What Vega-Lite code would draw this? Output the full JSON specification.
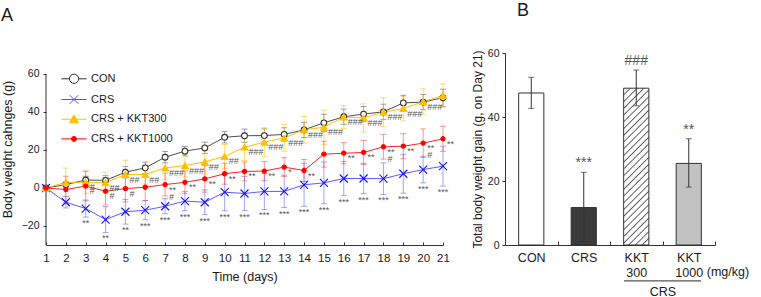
{
"$schema": "https://vega.github.io/schema/vega-lite/v6.json",
"background": "white",
"padding": {"left": 1, "top": 2, "right": 0, "bottom": 0},
"config": {
  "font": "Liberation Sans",
  "view": {"stroke": null},
  "axis": {"grid": false, "domainColor": "#333333", "tickColor": "#333333", "labelColor": "#1a1a1a", "titleColor": "#1a1a1a", "titleFontWeight": "normal", "labelFont": "Liberation Sans", "titleFont": "Liberation Sans"},
  "title": {"font": "Liberation Sans", "fontWeight": "normal", "fontSize": 18, "anchor": "start", "frame": "group", "baseline": "bottom", "color": "#1a1a1a"}
},
"spacing": 16,
"datasets": {
  "weights": [
    {"day":1,"group":"CON","mean":0,"lo":0,"hi":0,"sig":""},
    {"day":2,"group":"CON","mean":1.8,"lo":0.3,"hi":3.3,"sig":""},
    {"day":3,"group":"CON","mean":4.2,"lo":2.2,"hi":6.2,"sig":""},
    {"day":4,"group":"CON","mean":4,"lo":1.5,"hi":6.5,"sig":""},
    {"day":5,"group":"CON","mean":8.3,"lo":5.3,"hi":11.3,"sig":""},
    {"day":6,"group":"CON","mean":10.6,"lo":7.6,"hi":13.6,"sig":""},
    {"day":7,"group":"CON","mean":16.2,"lo":13.2,"hi":19.2,"sig":""},
    {"day":8,"group":"CON","mean":19.4,"lo":16.9,"hi":21.9,"sig":""},
    {"day":9,"group":"CON","mean":21.1,"lo":18.1,"hi":24.1,"sig":""},
    {"day":10,"group":"CON","mean":26.7,"lo":23.7,"hi":29.7,"sig":""},
    {"day":11,"group":"CON","mean":27.5,"lo":24,"hi":31,"sig":""},
    {"day":12,"group":"CON","mean":27.6,"lo":24.1,"hi":31.1,"sig":""},
    {"day":13,"group":"CON","mean":28.2,"lo":24.7,"hi":31.7,"sig":""},
    {"day":14,"group":"CON","mean":30.6,"lo":26.6,"hi":34.6,"sig":""},
    {"day":15,"group":"CON","mean":34.3,"lo":29.8,"hi":38.8,"sig":""},
    {"day":16,"group":"CON","mean":37.5,"lo":33.5,"hi":41.5,"sig":""},
    {"day":17,"group":"CON","mean":38.9,"lo":34.9,"hi":42.9,"sig":""},
    {"day":18,"group":"CON","mean":40.1,"lo":36.1,"hi":44.1,"sig":""},
    {"day":19,"group":"CON","mean":44.8,"lo":40.8,"hi":48.8,"sig":""},
    {"day":20,"group":"CON","mean":45.2,"lo":41.2,"hi":49.2,"sig":""},
    {"day":21,"group":"CON","mean":47.5,"lo":43,"hi":52,"sig":""},
    {"day":1,"group":"CRS","mean":0,"lo":0,"hi":0,"sig":""},
    {"day":2,"group":"CRS","mean":-7.5,"lo":-10.5,"hi":-4.5,"sig":""},
    {"day":3,"group":"CRS","mean":-10.8,"lo":-15.3,"hi":-6.3,"sig":"**"},
    {"day":4,"group":"CRS","mean":-16.6,"lo":-23.4,"hi":-9.8,"sig":"**"},
    {"day":5,"group":"CRS","mean":-12.5,"lo":-19,"hi":-6,"sig":"**"},
    {"day":6,"group":"CRS","mean":-11.7,"lo":-16.7,"hi":-6.7,"sig":"***"},
    {"day":7,"group":"CRS","mean":-9.6,"lo":-13.6,"hi":-5.6,"sig":"***"},
    {"day":8,"group":"CRS","mean":-6.9,"lo":-11.9,"hi":-1.9,"sig":"***"},
    {"day":9,"group":"CRS","mean":-7.5,"lo":-14,"hi":-1,"sig":"***"},
    {"day":10,"group":"CRS","mean":-2.2,"lo":-12,"hi":7.6,"sig":"***"},
    {"day":11,"group":"CRS","mean":-2.9,"lo":-11.9,"hi":6.1,"sig":"***"},
    {"day":12,"group":"CRS","mean":-1.8,"lo":-11.3,"hi":7.7,"sig":"***"},
    {"day":13,"group":"CRS","mean":-1.8,"lo":-10.3,"hi":6.7,"sig":"***"},
    {"day":14,"group":"CRS","mean":1.7,"lo":-9.6,"hi":13,"sig":"***"},
    {"day":15,"group":"CRS","mean":2.7,"lo":-8.3,"hi":13.7,"sig":"***"},
    {"day":16,"group":"CRS","mean":5,"lo":-4,"hi":14,"sig":"***"},
    {"day":17,"group":"CRS","mean":5,"lo":-3,"hi":13,"sig":"***"},
    {"day":18,"group":"CRS","mean":4.9,"lo":-3.4,"hi":13.2,"sig":"***"},
    {"day":19,"group":"CRS","mean":7.5,"lo":-2.7,"hi":17.7,"sig":"***"},
    {"day":20,"group":"CRS","mean":9.7,"lo":2.7,"hi":16.7,"sig":"***"},
    {"day":21,"group":"CRS","mean":11.5,"lo":1,"hi":22,"sig":"***"},
    {"day":1,"group":"CRS + KKT300","mean":0,"lo":0,"hi":0,"sig":""},
    {"day":2,"group":"CRS + KKT300","mean":3,"lo":-4.5,"hi":10.5,"sig":""},
    {"day":3,"group":"CRS + KKT300","mean":3,"lo":-3,"hi":9,"sig":"#"},
    {"day":4,"group":"CRS + KKT300","mean":2.8,"lo":-2.7,"hi":8.3,"sig":"##"},
    {"day":5,"group":"CRS + KKT300","mean":7.1,"lo":-0.4,"hi":14.6,"sig":"##"},
    {"day":6,"group":"CRS + KKT300","mean":7.1,"lo":2.1,"hi":12.1,"sig":"##"},
    {"day":7,"group":"CRS + KKT300","mean":10.6,"lo":4.6,"hi":16.6,"sig":"###"},
    {"day":8,"group":"CRS + KKT300","mean":11.8,"lo":5.8,"hi":17.8,"sig":"###"},
    {"day":9,"group":"CRS + KKT300","mean":13.8,"lo":7.3,"hi":20.3,"sig":"##"},
    {"day":10,"group":"CRS + KKT300","mean":16.6,"lo":10.3,"hi":22.9,"sig":"##"},
    {"day":11,"group":"CRS + KKT300","mean":21.5,"lo":14.5,"hi":28.5,"sig":"###"},
    {"day":12,"group":"CRS + KKT300","mean":24.1,"lo":16.5,"hi":31.7,"sig":"###"},
    {"day":13,"group":"CRS + KKT300","mean":26.4,"lo":19.4,"hi":33.4,"sig":"###"},
    {"day":14,"group":"CRS + KKT300","mean":30.6,"lo":23.6,"hi":37.6,"sig":"###"},
    {"day":15,"group":"CRS + KKT300","mean":32,"lo":23,"hi":41,"sig":"###"},
    {"day":16,"group":"CRS + KKT300","mean":37.3,"lo":31.3,"hi":43.3,"sig":"###"},
    {"day":17,"group":"CRS + KKT300","mean":36.9,"lo":29.5,"hi":44.3,"sig":"###"},
    {"day":18,"group":"CRS + KKT300","mean":39.9,"lo":32.3,"hi":47.5,"sig":"###"},
    {"day":19,"group":"CRS + KKT300","mean":41.8,"lo":35.3,"hi":48.3,"sig":"###"},
    {"day":20,"group":"CRS + KKT300","mean":45.4,"lo":38.6,"hi":52.2,"sig":"###"},
    {"day":21,"group":"CRS + KKT300","mean":48.7,"lo":42.6,"hi":54.8,"sig":""},
    {"day":1,"group":"CRS + KKT1000","mean":0,"lo":0,"hi":0,"sig":""},
    {"day":2,"group":"CRS + KKT1000","mean":-0.8,"lo":-7.8,"hi":6.2,"sig":""},
    {"day":3,"group":"CRS + KKT1000","mean":1,"lo":-6.8,"hi":8.8,"sig":"#"},
    {"day":4,"group":"CRS + KKT1000","mean":-1.7,"lo":-8.9,"hi":5.5,"sig":"#"},
    {"day":5,"group":"CRS + KKT1000","mean":-0.3,"lo":-7.3,"hi":6.7,"sig":"#"},
    {"day":6,"group":"CRS + KKT1000","mean":0.4,"lo":-6.6,"hi":7.4,"sig":""},
    {"day":7,"group":"CRS + KKT1000","mean":1.8,"lo":-4.2,"hi":7.8,"sig":"**\n#"},
    {"day":8,"group":"CRS + KKT1000","mean":3,"lo":-3,"hi":9,"sig":"**"},
    {"day":9,"group":"CRS + KKT1000","mean":4.8,"lo":-2.2,"hi":11.8,"sig":"**"},
    {"day":10,"group":"CRS + KKT1000","mean":7.5,"lo":2,"hi":13,"sig":"**"},
    {"day":11,"group":"CRS + KKT1000","mean":8.7,"lo":3.7,"hi":13.7,"sig":"**"},
    {"day":12,"group":"CRS + KKT1000","mean":8.9,"lo":3.9,"hi":13.9,"sig":"**"},
    {"day":13,"group":"CRS + KKT1000","mean":11,"lo":6,"hi":16,"sig":"*"},
    {"day":14,"group":"CRS + KKT1000","mean":9.2,"lo":3.4,"hi":15,"sig":"**"},
    {"day":15,"group":"CRS + KKT1000","mean":17.8,"lo":11,"hi":24.6,"sig":""},
    {"day":16,"group":"CRS + KKT1000","mean":18.3,"lo":12.7,"hi":23.9,"sig":"**"},
    {"day":17,"group":"CRS + KKT1000","mean":18.7,"lo":12.4,"hi":25,"sig":"**"},
    {"day":18,"group":"CRS + KKT1000","mean":21.7,"lo":15.2,"hi":28.2,"sig":"**\n#"},
    {"day":19,"group":"CRS + KKT1000","mean":22,"lo":15.4,"hi":28.6,"sig":"**"},
    {"day":20,"group":"CRS + KKT1000","mean":23.6,"lo":16.1,"hi":31.1,"sig":"**\n#"},
    {"day":21,"group":"CRS + KKT1000","mean":25.9,"lo":19.3,"hi":32.5,"sig":"**"}
  ],
  "totals": [
    {"group":"CON","mean":47.5,"lo":42.7,"hi":52.4,"sig":""},
    {"group":"CRS","mean":11.7,"lo":1.2,"hi":22.7,"sig":"***"},
    {"group":"KKT 300","mean":49,"lo":43.5,"hi":54.7,"sig":"###"},
    {"group":"KKT 1000","mean":25.5,"lo":18.1,"hi":33.2,"sig":"**"}
  ]
},
"hconcat": [
  {
    "width": 397, "height": 192,
    "title": {"text": "A", "offset": 28, "dx": -45},
    "data": {"name": "weights"},
    "resolve": {"scale": {"stroke": "independent", "fill": "independent", "shape": "independent", "size": "independent", "color": "independent"}},
    "encoding": {
      "x": {"field": "day", "type": "quantitative", "scale": {"domain": [1, 21], "nice": false},
        "axis": {"values": [1,2,3,4,5,6,7,8,9,10,11,12,13,14,15,16,17,18,19,20,21], "title": "Time (days)", "titleFontSize": 12.5, "labelFontSize": 11.5, "tickSize": -3, "labelPadding": 10, "titlePadding": 7, "labelFlush": false}}
    },
    "layer": [
      {
        "transform": [{"filter": "datum.day === 1 && datum.group === 'CON'"}],
        "mark": {"type": "rule", "color": "#333333", "strokeWidth": 1},
        "encoding": {
          "x": {"datum": 1, "type": "quantitative"},
          "y": {"datum": -30, "type": "quantitative"},
          "y2": {"datum": 60}
        }
      },
      {
        "mark": {"type": "errorbar", "ticks": true, "size": 6, "thickness": 1, "opacity": 0.55},
        "encoding": {
          "y": {"field": "lo", "type": "quantitative", "title": "Body weight cahnges (g)", "scale": {"domain": [-30, 71.05], "nice": false},
            "axis": {"values": [-20,-10,0,10,20,30,40,50,60], "domain": false, "title": "Body weight cahnges (g)", "titleFontSize": 12.5, "labelFontSize": 10.5, "tickSize": 3, "labelPadding": 4, "titlePadding": 7}},
          "y2": {"field": "hi"},
          "color": {"field": "group", "type": "nominal", "scale": {"domain": ["CON","CRS","CRS + KKT300","CRS + KKT1000"], "range": ["#555555","#5a5aff","#ffc000","#ff4040"]}, "legend": null}
        }
      },
      {
        "mark": {"type": "line", "strokeWidth": 1},
        "encoding": {
          "y": {"field": "mean", "type": "quantitative", "title": "Body weight cahnges (g)"},
          "stroke": {"field": "group", "type": "nominal", "scale": {"domain": ["CON","CRS","CRS + KKT300","CRS + KKT1000"], "range": ["#4d4d4d","#5c5cff","#ffc000","#ff2020"]}, "legend": null}
        }
      },
      {
        "mark": {"type": "point", "strokeWidth": 1.1, "opacity": 1},
        "encoding": {
          "y": {"field": "mean", "type": "quantitative", "title": "Body weight cahnges (g)"},
          "shape": {"field": "group", "type": "nominal", "scale": {"domain": ["CON","CRS","CRS + KKT300","CRS + KKT1000"], "range": ["circle","M-1,-1L1,1M-1,1L1,-1","triangle-up","circle"]}, "legend": null},
          "size": {"field": "group", "type": "nominal", "scale": {"type": "ordinal", "domain": ["CON","CRS","CRS + KKT300","CRS + KKT1000"], "range": [33, 64, 45, 18]}, "legend": null},
          "fill": {"field": "group", "type": "nominal", "scale": {"domain": ["CON","CRS","CRS + KKT300","CRS + KKT1000"], "range": ["white","transparent","#ffc000","#ff0000"]}, "legend": null},
          "stroke": {"field": "group", "type": "nominal", "scale": {"domain": ["CON","CRS","CRS + KKT300","CRS + KKT1000"], "range": ["#333333","#1515ff","#ffc000","#ff0000"]}, "legend": null}
        }
      },
      {
        "transform": [{"filter": "false"}],
        "mark": {"type": "point", "strokeWidth": 1, "opacity": 1},
        "encoding": {
          "y": {"field": "mean", "type": "quantitative", "title": "Body weight cahnges (g)"},
          "shape": {"field": "group", "type": "nominal", "title": null,
            "scale": {"domain": ["CON","CRS","CRS + KKT300","CRS + KKT1000"], "range": [
              "M-1.8,0L-0.66,0M0.66,0L1.8,0M-0.66,0A0.66,0.66,0,1,1,0.66,0A0.66,0.66,0,1,1,-0.66,0Z",
              "M-1.8,0L1.8,0M-0.62,-0.62L0.62,0.62M-0.62,0.62L0.62,-0.62",
              "M-1.8,0L1.8,0M0,-0.62L0.66,0.52L-0.66,0.52Z",
              "M-1.8,0L1.8,0M-0.36,0A0.36,0.36,0,1,1,0.36,0A0.36,0.36,0,1,1,-0.36,0Z"]},
            "legend": {"title": null, "orient": "none", "legendX": 20.5, "legendY": 18.3, "symbolSize": 196, "symbolStrokeWidth": 1, "labelFontSize": 11, "labelOffset": 9.5, "rowPadding": 5.7, "padding": 0, "labelColor": "#1a1a1a", "labelFont": "Liberation Sans"}},
          "fill": {"field": "group", "type": "nominal", "title": null, "scale": {"domain": ["CON","CRS","CRS + KKT300","CRS + KKT1000"], "range": ["white","transparent","#ffc000","#ff0000"]},
            "legend": {"title": null, "orient": "none", "legendX": 20.5, "legendY": 18.3, "symbolSize": 196, "symbolStrokeWidth": 1, "labelFontSize": 11, "labelOffset": 9.5, "rowPadding": 5.7, "padding": 0, "labelColor": "#1a1a1a", "labelFont": "Liberation Sans"}},
          "stroke": {"field": "group", "type": "nominal", "title": null, "scale": {"domain": ["CON","CRS","CRS + KKT300","CRS + KKT1000"], "range": ["#333333","#4d4dff","#ffc000","#ff0000"]},
            "legend": {"title": null, "orient": "none", "legendX": 20.5, "legendY": 18.3, "symbolSize": 196, "symbolStrokeWidth": 1, "labelFontSize": 11, "labelOffset": 9.5, "rowPadding": 5.7, "padding": 0, "labelColor": "#1a1a1a", "labelFont": "Liberation Sans"}}
        }
      },
      {
        "transform": [{"filter": "datum.group === 'CRS' && datum.sig !== ''"}],
        "mark": {"type": "text", "baseline": "top", "align": "center", "dy": 2, "fontSize": 9, "color": "#555555"},
        "encoding": {
          "y": {"field": "lo", "type": "quantitative", "title": "Body weight cahnges (g)"},
          "text": {"field": "sig"}
        }
      },
      {
        "transform": [{"filter": "datum.group !== 'CRS' && datum.group !== 'CON' && datum.sig !== ''"}],
        "mark": {"type": "text", "baseline": "top", "align": "left", "dx": 4, "dy": 1, "fontSize": 9, "lineBreak": "\n", "lineHeight": 7, "color": "#555555"},
        "encoding": {
          "y": {"field": "mean", "type": "quantitative", "title": "Body weight cahnges (g)"},
          "text": {"field": "sig"}
        }
      }
    ]
  },
  {
    "width": 210, "height": 192,
    "title": {"text": "B", "offset": 28, "dx": 12},
    "data": {"name": "totals"},
    "encoding": {
      "x": {"field": "group", "type": "nominal", "sort": null,
        "scale": {"domain": ["CON","CRS","KKT 300","KKT 1000"], "paddingInner": 0, "paddingOuter": 0},
        "axis": {"labelExpr": "split(datum.label, ' ')", "labelAngle": 0, "labelFontSize": 12.5, "labelLineHeight": 15, "labelPadding": 10.5, "tickBand": "extent", "tickSize": -4,
          "title": "CRS", "titleFontSize": 12.5, "titleX": 157.5, "titleY": 46, "titleAlign": "center", "titleBaseline": "middle", "titleAngle": 0}}
    },
    "layer": [
      {
        "mark": {"type": "bar", "width": {"band": 0.48}, "stroke": "#333333", "strokeWidth": 1},
        "encoding": {
          "y": {"field": "mean", "type": "quantitative", "title": "Total body weight gain (g, on Day 21)", "scale": {"domain": [0, 60], "nice": false},
            "axis": {"values": [0,10,20,30,40,50,60], "title": "Total body weight gain (g, on Day 21)", "titleFontSize": 12, "labelFontSize": 10.5, "tickSize": 3, "labelPadding": 3, "titlePadding": 3}},
          "fill": {
            "condition": [
              {"test": "datum.group === 'CRS'", "value": "#3a3a3a"},
              {"test": "datum.group === 'KKT 1000'", "value": "#c2c2c2"},
              {"test": "datum.group === 'KKT 300'", "value": {"gradient": "linear", "x1": 0, "y1": 0, "x2": 0.1816, "y2": 1.1314, "stops": [
                {"offset":0,"color":"white"},
                {"offset":0.030,"color":"white"},{"offset":0.037,"color":"#555555"},{"offset":0.044,"color":"white"},
                {"offset":0.067,"color":"white"},{"offset":0.074,"color":"#555555"},{"offset":0.081,"color":"white"},
                {"offset":0.104,"color":"white"},{"offset":0.111,"color":"#555555"},{"offset":0.118,"color":"white"},
                {"offset":0.141,"color":"white"},{"offset":0.148,"color":"#555555"},{"offset":0.155,"color":"white"},
                {"offset":0.178,"color":"white"},{"offset":0.185,"color":"#555555"},{"offset":0.192,"color":"white"},
                {"offset":0.215,"color":"white"},{"offset":0.222,"color":"#555555"},{"offset":0.229,"color":"white"},
                {"offset":0.252,"color":"white"},{"offset":0.259,"color":"#555555"},{"offset":0.266,"color":"white"},
                {"offset":0.289,"color":"white"},{"offset":0.296,"color":"#555555"},{"offset":0.303,"color":"white"},
                {"offset":0.326,"color":"white"},{"offset":0.333,"color":"#555555"},{"offset":0.340,"color":"white"},
                {"offset":0.363,"color":"white"},{"offset":0.370,"color":"#555555"},{"offset":0.377,"color":"white"},
                {"offset":0.400,"color":"white"},{"offset":0.407,"color":"#555555"},{"offset":0.414,"color":"white"},
                {"offset":0.437,"color":"white"},{"offset":0.444,"color":"#555555"},{"offset":0.451,"color":"white"},
                {"offset":0.474,"color":"white"},{"offset":0.481,"color":"#555555"},{"offset":0.488,"color":"white"},
                {"offset":0.511,"color":"white"},{"offset":0.518,"color":"#555555"},{"offset":0.525,"color":"white"},
                {"offset":0.549,"color":"white"},{"offset":0.556,"color":"#555555"},{"offset":0.563,"color":"white"},
                {"offset":0.586,"color":"white"},{"offset":0.593,"color":"#555555"},{"offset":0.600,"color":"white"},
                {"offset":0.623,"color":"white"},{"offset":0.630,"color":"#555555"},{"offset":0.637,"color":"white"},
                {"offset":0.660,"color":"white"},{"offset":0.667,"color":"#555555"},{"offset":0.674,"color":"white"},
                {"offset":0.697,"color":"white"},{"offset":0.704,"color":"#555555"},{"offset":0.711,"color":"white"},
                {"offset":0.734,"color":"white"},{"offset":0.741,"color":"#555555"},{"offset":0.748,"color":"white"},
                {"offset":0.771,"color":"white"},{"offset":0.778,"color":"#555555"},{"offset":0.785,"color":"white"},
                {"offset":0.808,"color":"white"},{"offset":0.815,"color":"#555555"},{"offset":0.822,"color":"white"},
                {"offset":0.845,"color":"white"},{"offset":0.852,"color":"#555555"},{"offset":0.859,"color":"white"},
                {"offset":0.882,"color":"white"},{"offset":0.889,"color":"#555555"},{"offset":0.896,"color":"white"},
                {"offset":0.919,"color":"white"},{"offset":0.926,"color":"#555555"},{"offset":0.933,"color":"white"},
                {"offset":0.956,"color":"white"},{"offset":0.963,"color":"#555555"},{"offset":0.970,"color":"white"},
                {"offset":1,"color":"white"}]}}
            ],
            "value": "white"
          }
        }
      },
      {
        "mark": {"type": "errorbar", "ticks": true, "size": 6, "thickness": 1, "color": "#333333"},
        "encoding": {
          "y": {"field": "lo", "type": "quantitative", "title": "Total body weight gain (g, on Day 21)"},
          "y2": {"field": "hi"}
        }
      },
      {
        "mark": {"type": "text", "baseline": "bottom", "align": "center", "dy": -2, "fontSize": 14, "color": "#555555"},
        "encoding": {
          "y": {"field": "hi", "type": "quantitative", "title": "Total body weight gain (g, on Day 21)"},
          "text": {"field": "sig"}
        }
      },
      {
        "transform": [{"filter": "datum.group === 'CON'"}],
        "mark": {"type": "rule", "color": "#555555", "strokeWidth": 1.2, "xOffset": -12.25, "x2Offset": 12.25},
        "encoding": {
          "x": {"datum": "KKT 300"},
          "x2": {"datum": "KKT 1000"},
          "y": {"datum": -11.2}
        }
      },
      {
        "transform": [{"filter": "datum.group === 'CON'"}],
        "mark": {"type": "text", "align": "left", "baseline": "middle", "dx": 18, "fontSize": 12.5, "color": "#1a1a1a"},
        "encoding": {
          "x": {"datum": "KKT 1000"},
          "y": {"datum": -8.4},
          "text": {"value": "(mg/kg)"}
        }
      }
    ]
  }
]
}
